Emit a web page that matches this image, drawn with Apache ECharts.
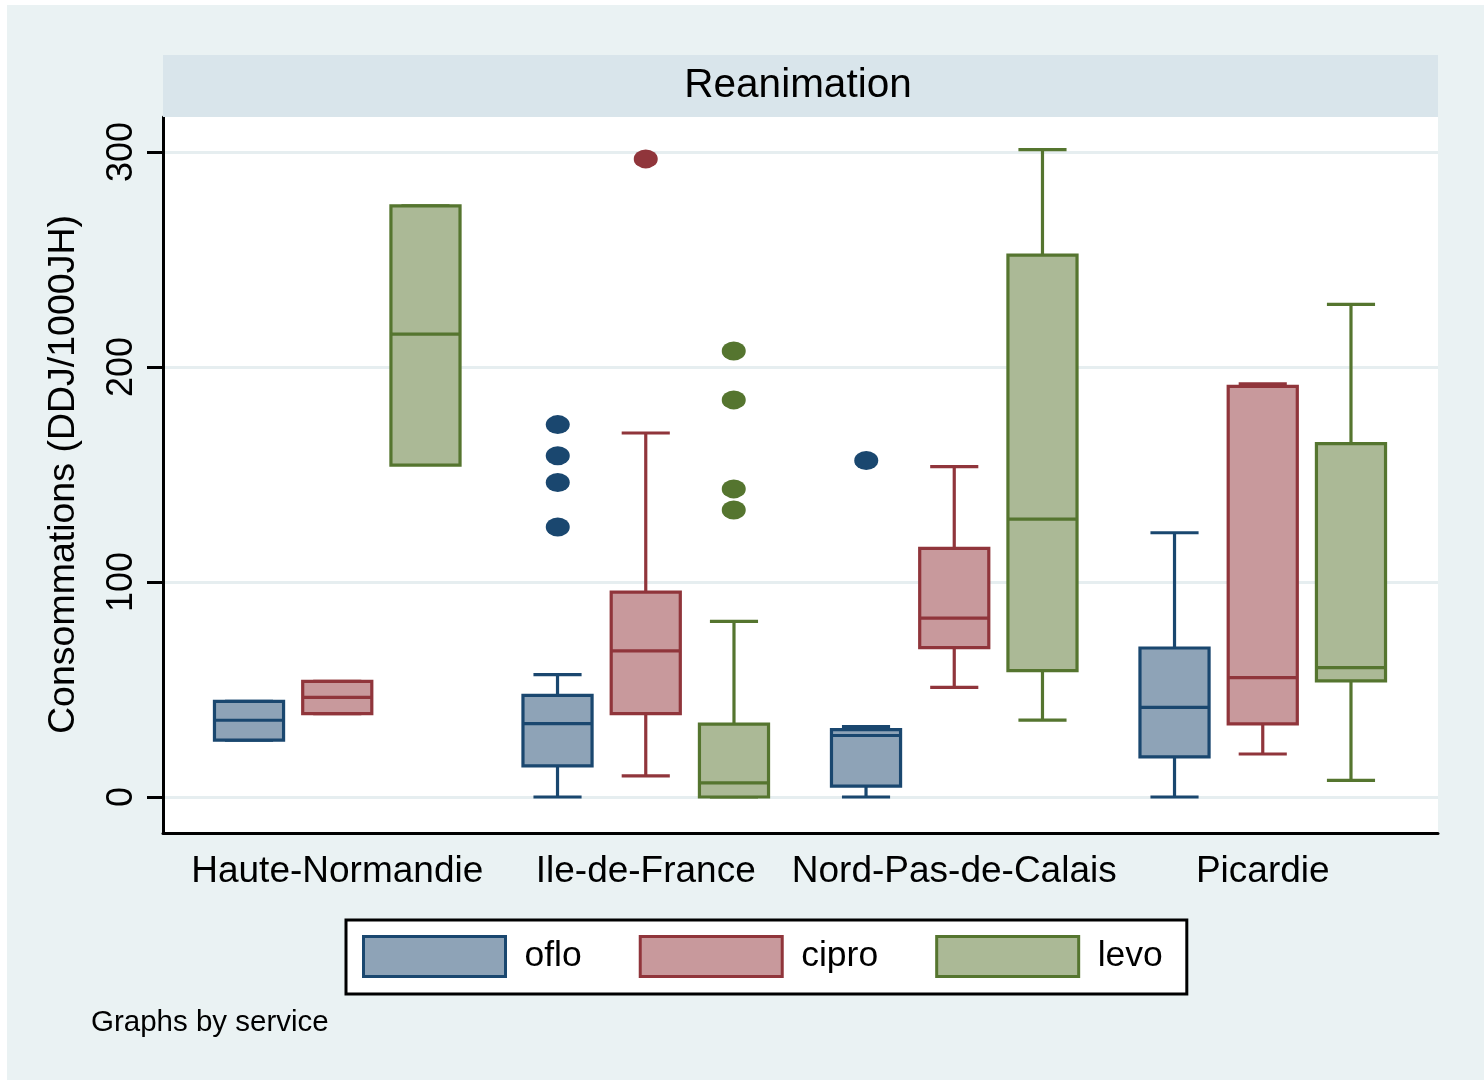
<!DOCTYPE html>
<html>
<head>
<meta charset="utf-8">
<script src="https://cdn.jsdelivr.net/npm/echarts@6/dist/echarts.min.js"></script>
<style>
  html, body { margin: 0; padding: 0; background: #fff; }
  #chart {
    position: absolute; left: 0; top: 0; width: 1484px; height: 1080px;
    background: #eaf2f3;
    box-shadow: inset 7px 5px 0 #fff;
  }
</style>
</head>
<body>
<div id="chart"></div>
<script>
// regions (categories)
const regions = ['Haute-Normandie', 'Ile-de-France', 'Nord-Pas-de-Calais', 'Picardie'];
const drugs = ['oflo', 'cipro', 'levo'];

// box values per region: [lower whisker, q1, median, q3, upper whisker]
const ofloBox = [
    [26.5, 26.5, 35.7, 44.5, 44.5],
    [0, 14.5, 34.1, 47.3, 56.9],
    [0, 5.1, 28.6, 31.3, 32.7],
    [0, 18.7, 41.7, 69.3, 122.9]
];
const ciproBox = [
    [38.8, 38.8, 46.3, 53.8, 53.8],
    [9.8, 38.8, 68, 95.3, 169.3],
    [51, 69.5, 83.2, 115.6, 153.7],
    [20, 34, 55.5, 191, 192.2]
];
const levoBox = [
    [155.3, 154.4, 215.3, 274.9, 274.9],
    [0, 0, 6.6, 33.9, 81.7],
    [35.8, 58.8, 129.2, 252, 301.1],
    [7.7, 54, 60.2, 164.4, 229.1]
];

// outside values: [region index, value]
const ofloOut = [[1, 173.2], [1, 158.7], [1, 146.3], [1, 125.6], [2, 156.5]];
const ciproOut = [[1, 296.8]];
const levoOut = [[1, 207.4], [1, 184.7], [1, 143.3], [1, 133.5]];

const yTicks = [0, 100, 200, 300];

// stata s2color
const lineColors = ['#1a476f', '#90353b', '#55752f'];
const fillColors = ['#8ea3b7', '#c8999c', '#abb996'];
const font = 'Liberation Sans, Arial, Helvetica, sans-serif';

const myChart = echarts.init(document.getElementById('chart'), null, { renderer: 'canvas' });

// box drawn with the category axis band; slot -1/0/1 = oflo/cipro/levo
function boxSeries(name, data, slot) {
    const stroke = lineColors[slot + 1];
    const fill = fillColors[slot + 1];
    return {
        name: name,
        type: 'custom',
        xAxisIndex: 2,
        yAxisIndex: 2,
        clip: false,
        itemStyle: { color: fill, borderColor: stroke, borderWidth: 3 },
        encode: { x: 0, y: [1, 2, 3, 4, 5] },
        data: data.map(function (d, i) { return [i].concat(d); }),
        renderItem: function (params, api) {
            const band = api.size([1, 0])[0];
            const x = api.coord([api.value(0), 0])[0] + slot * band * 0.286;
            const w = band * 0.224;
            const cap = band * 0.156;
            const yy = [1, 2, 3, 4, 5].map(function (k) {
                return api.coord([api.value(0), api.value(k)])[1];
            });
            const ln = { stroke: stroke, lineWidth: 3.2 };
            return {
                type: 'group',
                children: [
                    { type: 'line', shape: { x1: x, y1: yy[3], x2: x, y2: yy[4] }, style: ln },
                    { type: 'line', shape: { x1: x, y1: yy[1], x2: x, y2: yy[0] }, style: ln },
                    { type: 'line', shape: { x1: x - cap / 2, y1: yy[4], x2: x + cap / 2, y2: yy[4] }, style: ln },
                    { type: 'line', shape: { x1: x - cap / 2, y1: yy[0], x2: x + cap / 2, y2: yy[0] }, style: ln },
                    { type: 'rect', shape: { x: x - w / 2, y: yy[3], width: w, height: yy[1] - yy[3] },
                      style: { fill: fill, stroke: stroke, lineWidth: 3.2 } },
                    { type: 'line', shape: { x1: x - w / 2, y1: yy[2], x2: x + w / 2, y2: yy[2] }, style: ln }
                ]
            };
        }
    };
}

function outSeries(name, data, slot) {
    return {
        name: name,
        type: 'scatter',
        xAxisIndex: 2,
        yAxisIndex: 2,
        symbol: 'circle',
        symbolSize: [24, 19],
        symbolOffset: [slot * 88, 0],
        itemStyle: { color: lineColors[slot + 1], opacity: 1 },
        data: data
    };
}

const option = {
    animation: false,
    textStyle: { fontFamily: font, color: '#000' },
    grid: [
        // frame of the plot region
        { left: 163, right: 46, top: 117, bottom: 247, show: true, backgroundColor: '#fff', borderWidth: 0 },
        // ticks, labels, grid lines
        { left: 163, right: 46, top: 152, bottom: 283 },
        // boxes
        { left: 183, right: 67, top: 152, bottom: 283 }
    ],
    xAxis: [
        { gridIndex: 0, type: 'category', data: [''],
          axisLine: { show: true, lineStyle: { color: '#000', width: 3 } },
          axisTick: { show: false }, axisLabel: { show: false } },
        { gridIndex: 1, type: 'value', show: false },
        { gridIndex: 2, type: 'category', data: regions,
          axisLine: { show: false }, axisTick: { show: false },
          axisLabel: { interval: 0, margin: 56, fontSize: 37, color: '#000', fontFamily: font } }
    ],
    yAxis: [
        { gridIndex: 0, type: 'value', min: 0, max: 1,
          axisLine: { show: true, lineStyle: { color: '#000', width: 3 } },
          axisTick: { show: false }, axisLabel: { show: false }, splitLine: { show: false } },
        { gridIndex: 1, type: 'value', min: yTicks[0], max: yTicks[yTicks.length - 1], interval: 100,
          name: 'Consommations (DDJ/1000JH)',
          nameLocation: 'middle', nameGap: 80,
          nameTextStyle: { fontSize: 37.5, color: '#000', fontFamily: font },
          axisLine: { show: false },
          axisTick: { show: true, length: 16, lineStyle: { color: '#000', width: 3 } },
          axisLabel: { rotate: 90, margin: 23, fontSize: 36, color: '#000', fontFamily: font },
          splitLine: { show: true, lineStyle: { color: '#e6eef0', width: 3 } } },
        { gridIndex: 2, type: 'value', min: yTicks[0], max: yTicks[yTicks.length - 1], show: false }
    ],
    legend: {
        left: 346,
        top: 920,
        orient: 'horizontal',
        selectedMode: false,
        padding: [15, 24, 16, 16],
        borderColor: '#000',
        borderWidth: 3,
        backgroundColor: '#fff',
        itemWidth: 142,
        itemHeight: 40,
        itemGap: 57,
        textStyle: { fontSize: 35.5, color: '#000', fontFamily: font, padding: [0, 0, 0, 14] },
        data: drugs.map(function (d, i) {
            return { name: d, icon: 'rect',
                     itemStyle: { color: fillColors[i], borderColor: lineColors[i], borderWidth: 3 } };
        })
    },
    graphic: [
        { type: 'rect', left: 163, top: 55, z: 1,
          shape: { width: 1275, height: 62 }, style: { fill: '#d9e5eb' } },
        { type: 'text', x: 798, y: 86, z: 2,
          style: { text: 'Reanimation', fontSize: 40.5, fontFamily: font, fill: '#000',
                   align: 'center', verticalAlign: 'middle' } },
        { type: 'text', x: 91, y: 1023, z: 2,
          style: { text: 'Graphs by service', fontSize: 29.5, fontFamily: font, fill: '#000',
                   align: 'left', verticalAlign: 'middle' } }
    ],
    series: [
        boxSeries('oflo', ofloBox, -1),
        boxSeries('cipro', ciproBox, 0),
        boxSeries('levo', levoBox, 1),
        outSeries('oflo', ofloOut, -1),
        outSeries('cipro', ciproOut, 0),
        outSeries('levo', levoOut, 1)
    ]
};

myChart.setOption(option);
</script>
</body>
</html>
